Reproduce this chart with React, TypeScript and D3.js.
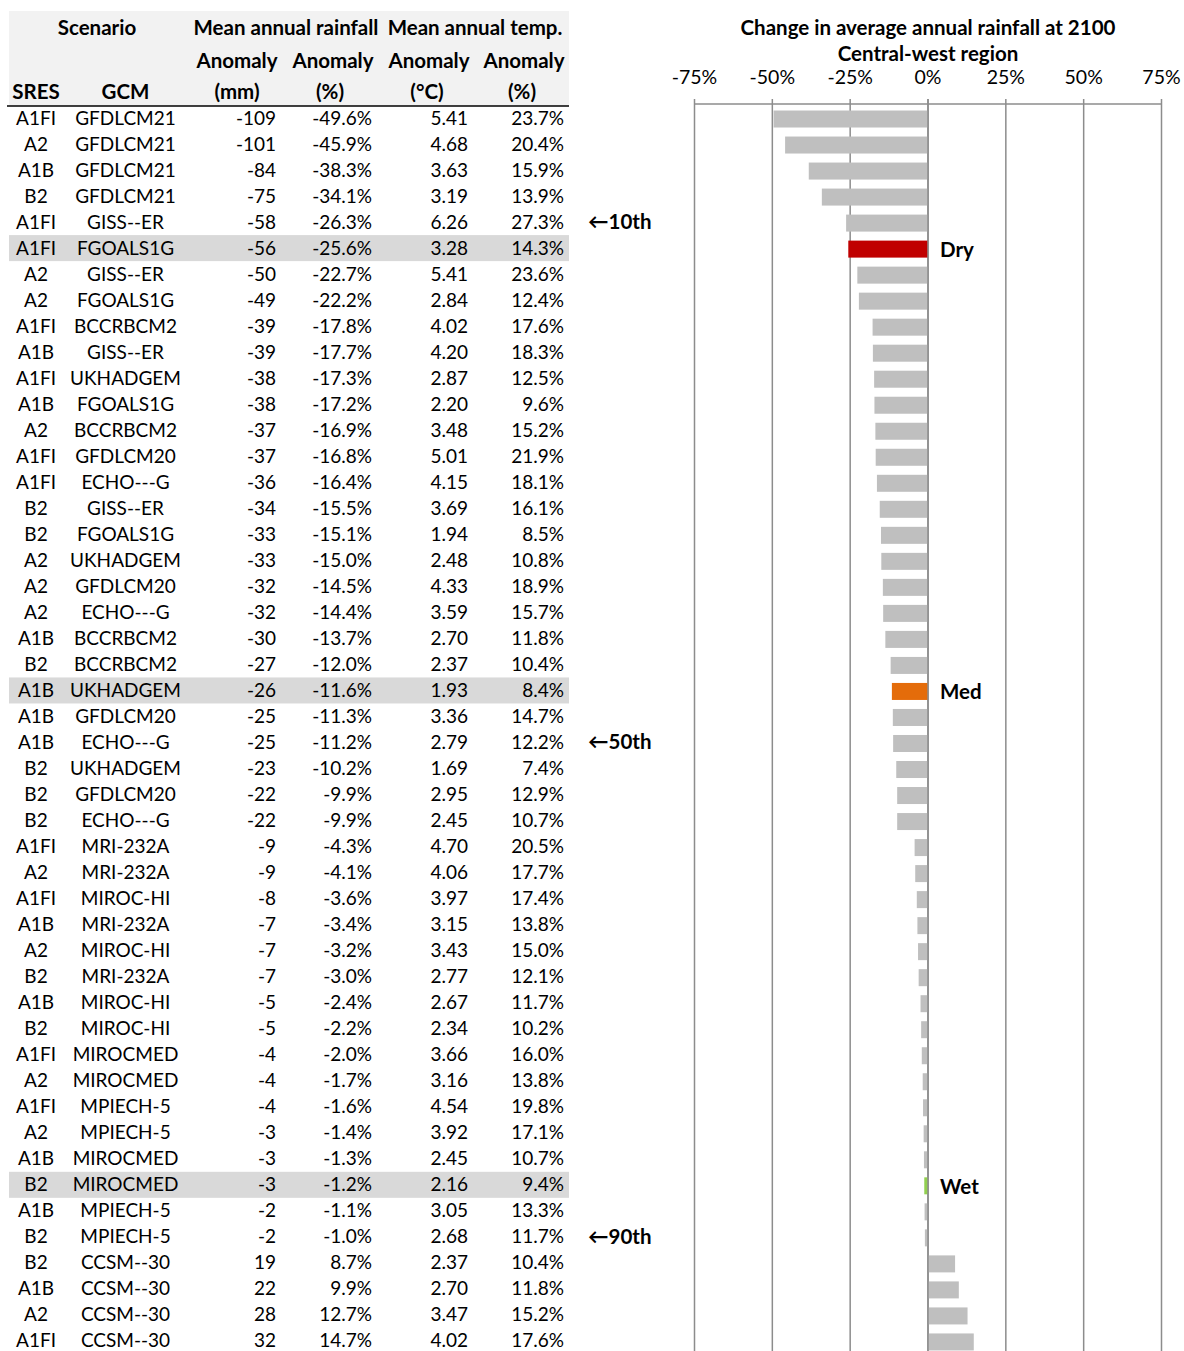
import React from "react";
import * as d3 from "d3";

// table rows, sorted driest to wettest
const sres = ["A1FI","A2","A1B","B2","A1FI","A1FI","A2","A2","A1FI","A1B","A1FI","A1B","A2","A1FI","A1FI","B2","B2","A2","A2","A2","A1B","B2","A1B","A1B","A1B","B2","B2","B2","A1FI","A2","A1FI","A1B","A2","B2","A1B","B2","A1FI","A2","A1FI","A2","A1B","B2","A1B","B2","B2","A1B","A2","A1FI"];
const gcm = ["GFDLCM21","GFDLCM21","GFDLCM21","GFDLCM21","GISS--ER","FGOALS1G","GISS--ER","FGOALS1G","BCCRBCM2","GISS--ER","UKHADGEM","FGOALS1G","BCCRBCM2","GFDLCM20","ECHO---G","GISS--ER","FGOALS1G","UKHADGEM","GFDLCM20","ECHO---G","BCCRBCM2","BCCRBCM2","UKHADGEM","GFDLCM20","ECHO---G","UKHADGEM","GFDLCM20","ECHO---G","MRI-232A","MRI-232A","MIROC-HI","MRI-232A","MIROC-HI","MRI-232A","MIROC-HI","MIROC-HI","MIROCMED","MIROCMED","MPIECH-5","MPIECH-5","MIROCMED","MIROCMED","MPIECH-5","MPIECH-5","CCSM--30","CCSM--30","CCSM--30","CCSM--30"];
const rainMm = [-109,-101,-84,-75,-58,-56,-50,-49,-39,-39,-38,-38,-37,-37,-36,-34,-33,-33,-32,-32,-30,-27,-26,-25,-25,-23,-22,-22,-9,-9,-8,-7,-7,-7,-5,-5,-4,-4,-4,-3,-3,-3,-2,-2,19,22,28,32];
const rainPct = [-49.6,-45.9,-38.3,-34.1,-26.3,-25.6,-22.7,-22.2,-17.8,-17.7,-17.3,-17.2,-16.9,-16.8,-16.4,-15.5,-15.1,-15.0,-14.5,-14.4,-13.7,-12.0,-11.6,-11.3,-11.2,-10.2,-9.9,-9.9,-4.3,-4.1,-3.6,-3.4,-3.2,-3.0,-2.4,-2.2,-2.0,-1.7,-1.6,-1.4,-1.3,-1.2,-1.1,-1.0,8.7,9.9,12.7,14.7];
const tempC = [5.41,4.68,3.63,3.19,6.26,3.28,5.41,2.84,4.02,4.20,2.87,2.20,3.48,5.01,4.15,3.69,1.94,2.48,4.33,3.59,2.70,2.37,1.93,3.36,2.79,1.69,2.95,2.45,4.70,4.06,3.97,3.15,3.43,2.77,2.67,2.34,3.66,3.16,4.54,3.92,2.45,2.16,3.05,2.68,2.37,2.70,3.47,4.02];
const tempPct = [23.7,20.4,15.9,13.9,27.3,14.3,23.6,12.4,17.6,18.3,12.5,9.6,15.2,21.9,18.1,16.1,8.5,10.8,18.9,15.7,11.8,10.4,8.4,14.7,12.2,7.4,12.9,10.7,20.5,17.7,17.4,13.8,15.0,12.1,11.7,10.2,16.0,13.8,19.8,17.1,10.7,9.4,13.3,11.7,10.4,11.8,15.2,17.6];

// picked scenarios (row index) and percentile markers
const pickRows = [5, 22, 41];
const pickLabels = ["Dry", "Med", "Wet"];
const pickColors = ["#C00000", "#E46C0A", "#92D050"];
const pctRows = [4, 24, 43];
const pctLabels = ["\u219010th", "\u219050th", "\u219090th"];

const axisTicks = [-75, -50, -25, 0, 25, 50, 75];

const W = 1184;
const H = 1351;
const FONT = "Lato, 'Open Sans', sans-serif";

export default function App() {
  const rows = d3.range(sres.length);
  const y = d3.scaleBand<number>().domain(rows).range([105, 105 + rows.length * 26.02]);
  const x = d3.scaleLinear().domain([-75, 75]).range([694.5, 1161.5]);
  const barH = 17;

  // column anchors for the table
  const colCenter = { sres: 36, gcm: 125.5, c: 235, d: 331, e: 427, f: 522 };
  const colRight = { c: 276, d: 372, e: 468, f: 564 };
  const fs = 19;
  const fb = 20.5;

  return (
    <svg width={W} height={H} style={{ position: "absolute", left: 0, top: 0 }} fontFamily={FONT}>
      <rect width={W} height={H} fill="#fff" />

      {/* table header */}
      <rect x={9} y={11} width={560} height={95} fill="#F2F2F2" />
      {pickRows.map((r) => (
        <rect key={"hl" + r} x={9} y={y(r)!} width={560} height={y.bandwidth()} fill="#D9D9D9" />
      ))}
      <g fontWeight="bold" fontSize={fb} textAnchor="middle" fill="#000">
        <text x={97} y={27} dominantBaseline="central">Scenario</text>
        <text x={286} y={27} dominantBaseline="central">Mean annual rainfall</text>
        <text x={475} y={27} dominantBaseline="central">Mean annual temp.</text>
        {[colCenter.c, colCenter.d, colCenter.e, colCenter.f].map((cx, i) => (
          <text key={"an" + i} x={cx + 2} y={60} dominantBaseline="central">Anomaly</text>
        ))}
        <text x={colCenter.sres} y={91} dominantBaseline="central">SRES</text>
        <text x={colCenter.gcm} y={91} dominantBaseline="central">GCM</text>
        <text x={237} y={91} dominantBaseline="central">(mm)</text>
        <text x={330} y={91} dominantBaseline="central">(%)</text>
        <text x={427} y={91} dominantBaseline="central">(°C)</text>
        <text x={522} y={91} dominantBaseline="central">(%)</text>
      </g>
      <line x1={7} x2={569} y1={106} y2={106} stroke="#000" strokeWidth={1.5} />

      {/* table body */}
      <g fontSize={fs} fill="#000">
        {rows.map((i) => {
          const cy = y(i)! + y.bandwidth() / 2 - 1;
          return (
            <g key={"row" + i}>
              <text x={colCenter.sres} y={cy} textAnchor="middle" dominantBaseline="central">{sres[i]}</text>
              <text x={colCenter.gcm} y={cy} textAnchor="middle" dominantBaseline="central">{gcm[i]}</text>
              <text x={colRight.c} y={cy} textAnchor="end" dominantBaseline="central">{rainMm[i]}</text>
              <text x={colRight.d} y={cy} textAnchor="end" dominantBaseline="central">{rainPct[i].toFixed(1)}%</text>
              <text x={colRight.e} y={cy} textAnchor="end" dominantBaseline="central">{tempC[i].toFixed(2)}</text>
              <text x={colRight.f} y={cy} textAnchor="end" dominantBaseline="central">{tempPct[i].toFixed(1)}%</text>
            </g>
          );
        })}
      </g>

      {/* percentile markers */}
      <g fontSize={fb} fontWeight="bold">
        {pctRows.map((r, k) => (
          <text key={"pc" + r} x={588} y={y(r)! + y.bandwidth() / 2 - 1} dominantBaseline="central">{pctLabels[k]}</text>
        ))}
      </g>

      {/* chart title */}
      <g fontWeight="bold" fontSize={fb} textAnchor="middle">
        <text x={x(0)} y={27} dominantBaseline="central">Change in average annual rainfall at 2100</text>
        <text x={x(0)} y={53} dominantBaseline="central">Central-west region</text>
      </g>

      {/* axis + gridlines */}
      <g fontSize={19.5} textAnchor="middle">
        {axisTicks.map((t) => (
          <text key={"t" + t} x={x(t)} y={76} dominantBaseline="central">{t}%</text>
        ))}
      </g>
      {axisTicks.map((t) => (
        <line key={"g" + t} x1={x(t)} x2={x(t)} y1={99} y2={H} stroke="#8C8C8C" strokeWidth={1.5} />
      ))}
      <line x1={x(-75)} x2={x(75)} y1={104} y2={104} stroke="#8C8C8C" strokeWidth={1.5} />

      {/* bars */}
      {rows.map((i) => {
        const k = pickRows.indexOf(i);
        const v = rainPct[i];
        const cy = y(i)! + y.bandwidth() / 2 + 1;
        return (
          <rect
            key={"b" + i}
            x={Math.min(x(v), x(0))}
            y={cy - barH / 2}
            width={Math.abs(x(v) - x(0))}
            height={barH}
            fill={k >= 0 ? pickColors[k] : "#BFBFBF"}
          />
        );
      })}
      <line x1={x(0)} x2={x(0)} y1={99} y2={H} stroke="#8C8C8C" strokeWidth={1.5} />

      {/* picked labels */}
      <g fontSize={fb} fontWeight="bold">
        {pickRows.map((r, k) => (
          <text key={"pl" + r} x={x(0) + 12} y={y(r)! + y.bandwidth() / 2 + 1} dominantBaseline="central">{pickLabels[k]}</text>
        ))}
      </g>
    </svg>
  );
}
